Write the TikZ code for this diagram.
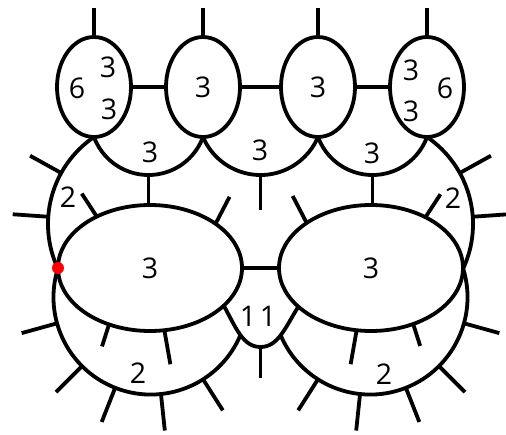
\documentclass[tikz,border=0pt]{standalone}
\usepackage{fontspec}
\setmainfont{Open Sans}
\usetikzlibrary{shapes.geometric,calc}
\begin{document}
\begin{tikzpicture}[x=1pt,y=-1pt,line width=3.8pt,line join=round,
  lab/.style={inner sep=0pt,font=\fontsize{28.5}{28.5}\selectfont},
  small/.style={ellipse,draw,minimum width=74pt,minimum height=100pt,inner sep=0pt,outer sep=0pt,font=\fontsize{28.5}{28.5}\selectfont},
  big/.style={ellipse,draw,minimum width=184pt,minimum height=126pt,inner sep=0pt,outer sep=0pt,font=\fontsize{28.5}{28.5}\selectfont},
  reddot/.style={circle,fill=red,minimum size=12pt,inner sep=0pt}]
\useasboundingbox (0,0) rectangle (506,434);

% small ellipses
\node[small] (e1) at (94,87) {};
\node[small] (e2) at (203,87) {3};
\node[small] (e3) at (318,87) {3};
\node[small] (e4) at (427,87) {};
% big ellipses
\node[big] (L) at (150,268) {3};
\node[big] (R) at (371,268) {3};

% top stubs
\foreach \n in {e1,e2,e3,e4} \draw (\n.north) -- ++(0,-29);
% connectors
\draw (e1.east) -- (e2.west);
\draw (e2.east) -- (e3.west);
\draw (e3.east) -- (e4.west);
\draw (L.east) -- (R.west);

% sagging arcs between small ellipses
\draw (e1.south) arc[start angle=159.8,end angle=20.2,radius=58.08];
\draw (e2.south) arc[start angle=156.93,end angle=23.07,radius=62.5];
\draw (e3.south) arc[start angle=159.8,end angle=20.2,radius=58.08];
\coordinate (a12) at (148.5,175);
\coordinate (a23) at (260.5,175);
\coordinate (a34) at (372.5,175);
\coordinate (a23end) at (260.5,210);
\draw (a12) -- (a12 |- L.north);
\draw (a34) -- (a34 |- R.north);
\draw (a23) -- (a23end);

% outer arcs
\coordinate (cUL) at (153.4,224.1);
\coordinate (cUR) at (367.6,224.1);
\coordinate (cBL) at (150.8,297.3);
\coordinate (cBR) at (370.2,297.3);
\draw (e1.south) arc[start angle=235.7,end angle=154.8,radius=105.4];
\draw (e4.south) arc[start angle=-55.7,end angle=25.2,radius=105.4];
\draw (L.west) arc[start angle=197.5,end angle=22.5,radius=97.3];
\draw (R.east) arc[start angle=-17.5,end angle=157.5,radius=97.3];

% stubs on outer arcs
\foreach \a in {209,184} \draw ($(cUL)+(\a:105.4)$) -- ($(cUL)+(\a:141)$);
\foreach \a in {-29,-4} \draw ($(cUR)+(\a:105.4)$) -- ($(cUR)+(\a:141)$);
\foreach \a in {164.5,135,111.5,84,57.5} \draw ($(cBL)+(\a:97.3)$) -- ($(cBL)+(\a:134)$);
\foreach \a in {15.5,45,68.5,96,122.5} \draw ($(cBR)+(\a:97.3)$) -- ($(cBR)+(\a:134)$);

% stubs on big ellipses
\draw (L.136.6) -- ++(-15,-23);
\draw (L.34.5) -- ++(14,-27);
\draw (L.-126.9) -- ++(-7,22);
\draw (L.-77) -- ++(6,34);
\draw (R.43.4) -- ++(15,-23);
\draw (R.145.5) -- ++(-14,-27);
\draw (R.-53.1) -- ++(7,22);
\draw (R.-103) -- ++(-6,34);

% bottom lobe
\coordinate (lb) at (260.5,347);
\draw (L.-27.5) .. controls (236,328) and (243,347) .. (lb)
      .. controls (278,347) and (285,328) .. (R.-152.5);
\draw (lb) -- ++(0,31);

% labels
\node[lab] (t1) at (77,88) {6};
\node[lab] (t2) at (108,67) {3};
\node[lab] (t3) at (109,109) {3};
\node[lab] (t4) at (411,70) {3};
\node[lab] (t5) at (411,111) {3};
\node[lab] (t6) at (445,88) {6};
\node[lab] (t7) at (150,152) {3};
\node[lab] (t8) at (260,150) {3};
\node[lab] (t9) at (372,153) {3};
\node[lab] (t10) at (68,197) {2};
\node[lab] (t11) at (453,198) {2};
\node[lab] (t12) at (248,316) {1};
\node[lab] (t13) at (268,316) {1};
\node[lab] (t14) at (138,373) {2};
\node[lab] (t15) at (384,374) {2};

\node[reddot] (dot) at (L.west) {};
\end{tikzpicture}
\end{document}
